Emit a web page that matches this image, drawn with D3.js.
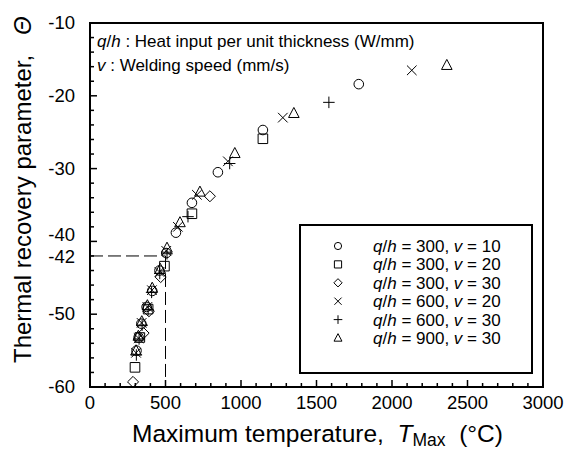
<!DOCTYPE html>
<html>
<head>
<meta charset="utf-8">
<script src="https://cdn.jsdelivr.net/npm/d3@7"></script>
<style>
  body { margin: 0; background: #fff; }
  svg { font-family: "Liberation Sans", Arial, sans-serif; }
</style>
</head>
<body>
<div id="chart"></div>
<script>
// chart data
var xTicks = [0, 500, 1000, 1500, 2000, 2500, 3000];
var yTicks = [-10, -20, -30, -40, -42, -50, -60];

var seriesNames = ["300,10", "300,20", "300,30", "600,20", "600,30", "900,30"];
var seriesQh = [300, 300, 300, 600, 600, 900];
var seriesV = [10, 20, 30, 20, 30, 30];
var seriesShape = ["circle", "square", "diamond", "x", "plus", "triangle"];

var circlePts = [[1780, -18.4], [1145, -24.7], [847, -30.5], [675, -34.7], [569, -38.8], [505, -41.6],
  [460, -44.0], [412, -46.8], [375, -49.0], [340, -51.3], [322, -53.2], [308, -55.0]];
var squarePts = [[1145, -25.9], [675, -36.2], [493, -43.4], [385, -49.3], [330, -53.2], [298, -57.3]];
var diamondPts = [[794, -33.8], [468, -44.9], [390, -49.6], [355, -52.6], [285, -59.3]];
var xPts = [[2131, -16.5], [1277, -23.0], [913, -29.0], [708, -33.6], [582, -38.0], [505, -41.3],
  [460, -44.2], [410, -46.7], [380, -49.0], [342, -51.2], [322, -53.3], [305, -55.3]];
var plusPts = [[1582, -20.9], [925, -29.3], [649, -36.6], [510, -41.7], [462, -44.4], [408, -47.0],
  [385, -49.4], [345, -51.5], [325, -53.4], [307, -55.6]];
var trianglePts = [[2363, -15.8], [1350, -22.4], [959, -27.9], [728, -33.2], [596, -37.4], [510, -40.9],
  [465, -43.8], [412, -46.4], [380, -48.8], [343, -51.0], [320, -53.0], [305, -55.0]];

var allSeries = [circlePts, squarePts, diamondPts, xPts, plusPts, trianglePts];

// reference line at theta = -42, T = 500
var refT = 500, refTheta = -42;

var svgWidth = 566, svgHeight = 450;
var margin = { top: 23, right: 23, bottom: 63, left: 90 };
var width = svgWidth - margin.left - margin.right;
var height = svgHeight - margin.top - margin.bottom;

var svg = d3.select("#chart").append("svg")
  .attr("width", svgWidth)
  .attr("height", svgHeight);

var g = svg.append("g")
  .attr("transform", "translate(" + margin.left + "," + margin.top + ")");

var x = d3.scaleLinear().domain([0, 3000]).range([0, width]);
var y = d3.scaleLinear().domain([-60, -10]).range([height, 0]);

// symbol paths, s = half size
function shapePath(type, s) {
  var p = d3.path();
  if (type == "circle") {
    p.moveTo(s, 0); p.arc(0, 0, s, 0, 2 * Math.PI);
  } else if (type == "square") {
    p.rect(-s, -s, 2 * s, 2 * s);
  } else if (type == "diamond") {
    var d = s * 1.15;
    p.moveTo(0, -d); p.lineTo(d, 0); p.lineTo(0, d); p.lineTo(-d, 0); p.closePath();
  } else if (type == "x") {
    p.moveTo(-s, -s); p.lineTo(s, s); p.moveTo(-s, s); p.lineTo(s, -s);
  } else if (type == "plus") {
    var c = s * 1.2;
    p.moveTo(-c, 0); p.lineTo(c, 0); p.moveTo(0, -c); p.lineTo(0, c);
  } else if (type == "triangle") {
    var t = s * 1.1;
    p.moveTo(0, -t * 1.1); p.lineTo(t, t * 0.8); p.lineTo(-t, t * 0.8); p.closePath();
  }
  return p.toString();
}

// frame
g.append("rect")
  .attr("width", width).attr("height", height)
  .attr("fill", "none").attr("stroke", "#000").attr("stroke-width", 2);

// ticks (inward)
var xMinor = d3.range(0, 3001, 100);
g.selectAll("line.xt").data(xMinor).enter().append("line")
  .attr("class", "xt")
  .attr("x1", d => x(d)).attr("x2", d => x(d))
  .attr("y1", height).attr("y2", d => height - (d % 500 == 0 ? 7 : 4))
  .attr("stroke", "#000").attr("stroke-width", 1.5);

var yMinor = d3.range(-60, -9, 2);
g.selectAll("line.yt").data(yMinor).enter().append("line")
  .attr("class", "yt")
  .attr("x1", 0).attr("x2", d => (d % 10 == 0 ? 7 : 4))
  .attr("y1", d => y(d)).attr("y2", d => y(d))
  .attr("stroke", "#000").attr("stroke-width", 1.5);

// tick labels
g.selectAll("text.xl").data(xTicks).enter().append("text")
  .attr("class", "xl")
  .attr("x", d => x(d)).attr("y", height + 22)
  .attr("text-anchor", "middle")
  .attr("font-size", 18.5)
  .text(d => d);

g.selectAll("text.yl").data(yTicks).enter().append("text")
  .attr("class", "yl")
  .attr("x", -15).attr("y", d => y(d) + (d == -40 ? 0 : d == -42 ? 7 : 6))
  .attr("text-anchor", "end")
  .attr("font-size", 18.5)
  .text(d => d);

// dashed reference lines
g.append("path")
  .attr("d", "M" + x(0) + "," + y(refTheta) + "H" + x(refT) + "M" + x(refT) + "," + y(refTheta) + "V" + y(-60))
  .attr("fill", "none").attr("stroke", "#000").attr("stroke-width", 1)
  .attr("stroke-dasharray", "13,5");

// data points
allSeries.forEach(function(pts, i) {
  g.selectAll("path.s" + i).data(pts).enter().append("path")
    .attr("class", "s" + i)
    .attr("transform", d => "translate(" + x(d[0]) + "," + y(d[1]) + ")")
    .attr("d", shapePath(seriesShape[i], 4.8))
    .attr("fill", "none").attr("stroke", "#000").attr("stroke-width", 1);
});

// annotation
var note = g.append("text").attr("x", 7).attr("y", 24).attr("font-size", 17);
note.append("tspan").attr("font-style", "italic").text("q");
note.append("tspan").text("/");
note.append("tspan").attr("font-style", "italic").text("h");
note.append("tspan").text(" : Heat input per unit thickness (W/mm)");
var note2 = g.append("text").attr("x", 7).attr("y", 48).attr("font-size", 17);
note2.append("tspan").attr("font-style", "italic").text("v");
note2.append("tspan").text(" : Welding speed (mm/s)");

// legend
var lg = g.append("g").attr("transform", "translate(" + (300 - margin.left) + "," + (225 - margin.top) + ")");
lg.append("rect").attr("width", 232).attr("height", 148)
  .attr("fill", "#fff").attr("stroke", "#000").attr("stroke-width", 2);
seriesNames.forEach(function(name, i) {
  var row = lg.append("g").attr("transform", "translate(0," + (21 + i * 18.4) + ")");
  row.append("path")
    .attr("transform", "translate(38,0)")
    .attr("d", shapePath(seriesShape[i], 3.6))
    .attr("fill", "none").attr("stroke", "#000").attr("stroke-width", 1);
  var t = row.append("text").attr("x", 73).attr("y", 6).attr("font-size", 17);
  t.append("tspan").attr("font-style", "italic").text("q");
  t.append("tspan").text("/");
  t.append("tspan").attr("font-style", "italic").text("h");
  t.append("tspan").text(" = " + seriesQh[i] + ", ");
  t.append("tspan").attr("font-style", "italic").text("v");
  t.append("tspan").text(" = " + seriesV[i]);
});

// axis titles
var xt = svg.append("text")
  .attr("x", 132).attr("y", 442)
  .attr("font-size", 24.5)
  .attr("xml:space", "preserve");
xt.append("tspan").text("Maximum temperature,  ");
xt.append("tspan").attr("font-style", "italic").text("T");
xt.append("tspan").attr("font-size", 17.5).attr("dy", 4).text("Max");
xt.append("tspan").attr("dy", -4).text("  (°C)");

var yt = svg.append("text")
  .attr("transform", "translate(31,363) rotate(-90)")
  .attr("font-size", 24)
  .attr("xml:space", "preserve");
yt.append("tspan").text("Thermal recovery parameter,   ");
yt.append("tspan").attr("font-style", "italic").text("Θ");
</script>
</body>
</html>
